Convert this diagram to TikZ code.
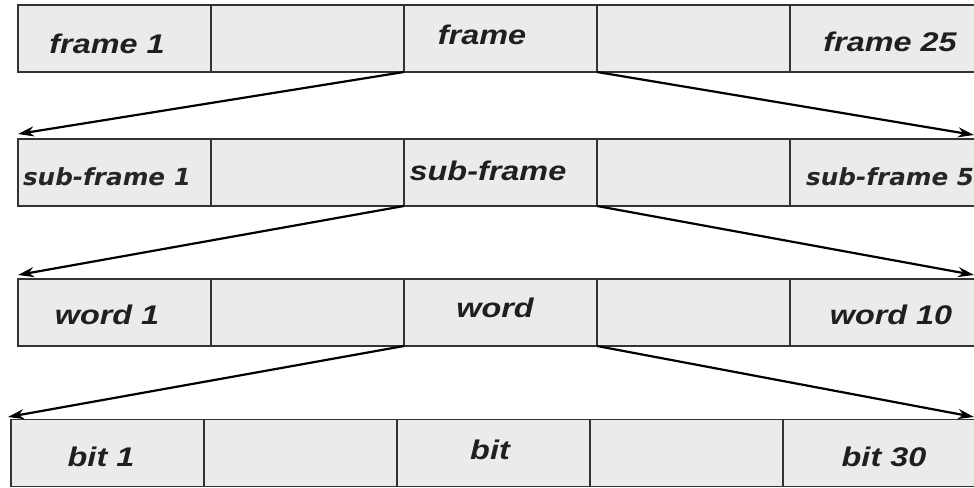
\documentclass[tikz,border=0pt]{standalone}
\usepackage{fontspec}
\newfontfamily\helv[FakeStretch=1.2]{Liberation Sans}
\newfontfamily\humn[FakeStretch=1.05]{DejaVu Sans}
\usetikzlibrary{arrows.meta}
\begin{document}
\begin{tikzpicture}[x=1pt,y=-1pt,
 cell/.style={draw=black!80, line width=1.1pt, fill=black!8, minimum width=193pt, minimum height=67pt, inner sep=0pt, outer sep=0pt, anchor=north west},
 lbl/.style={anchor=base, inner sep=0pt, font=\helv\fontsize{27}{30}\selectfont\bfseries\itshape, text=black!88},
 lblh/.style={anchor=base, inner sep=0pt, font=\humn\fontsize{23.5}{26}\selectfont\bfseries\itshape, text=black!85},
 link/.style={line width=2.2pt, -{Stealth[length=16pt,width=10pt,inset=5pt]}}]
\useasboundingbox (0,0) rectangle (974,487);
\foreach \r/\y/\x in {1/5/18, 2/139/18, 3/279/18, 4/419.5/11} {
  \foreach \c in {1,...,5} {
    \node[cell] (c\r\c) at ({\x+(\c-1)*193},\y) {};
  }
}
\node[lbl] (t11) at (107,53) {frame 1};
\node[lbl] (t13) at (482,45) {frame};
\node[lbl] (t15) at (890,52) {frame 25};
\node[lblh] (t21) at (107,185) {sub-frame 1};
\node[lbl] (t23) at (488,180) {sub-frame};
\node[lblh, anchor=base west] (t25) at (806,185) {sub-frame 5};
\node[lbl] (t31) at (107,324) {word 1};
\node[lbl] (t33) at (495,317) {word};
\node[lbl] (t35) at (891,324) {word 10};
\node[lbl] (t41) at (101,466) {bit 1};
\node[lbl] (t43) at (490,459) {bit};
\node[lbl] (t45) at (884,466) {bit 30};
\coordinate (l2) at (18,134);
\coordinate (r2) at (974,135);
\coordinate (l3) at (18,275);
\coordinate (r3) at (974,275);
\coordinate (l4) at (8,417);
\coordinate (r4) at (974,417);
\draw[link] (c13.south west) -- (l2);
\draw[link] (c13.south east) -- (r2);
\draw[link] (c23.south west) -- (l3);
\draw[link] (c23.south east) -- (r3);
\draw[link] (c33.south west) -- (l4);
\draw[link] (c33.south east) -- (r4);
\end{tikzpicture}
\end{document}
